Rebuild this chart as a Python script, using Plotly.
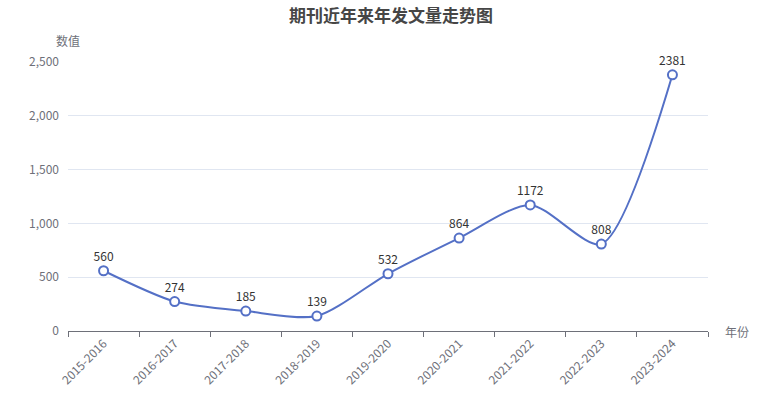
import plotly.graph_objects as go

categories = ["2015-2016", "2016-2017", "2017-2018", "2018-2019", "2019-2020",
              "2020-2021", "2021-2022", "2022-2023", "2023-2024"]
values = [560, 274, 185, 139, 532, 864, 1172, 808, 2381]
y_ticks = [0, 500, 1000, 1500, 2000, 2500]
y_tick_text = ["0", "500", "1,000", "1,500", "2,000", "2,500"]

FONT = "Noto Sans CJK SC, Microsoft YaHei, sans-serif"

fig = go.Figure()
fig.add_trace(go.Scatter(
    x=categories, y=values,
    mode="lines+markers+text",
    line=dict(color="#5470C6", width=2, shape="spline", smoothing=0.75),
    marker=dict(size=9, color="white", line=dict(color="#5470C6", width=2)),
    text=[str(v) for v in values],
    textposition="top center",
    textfont=dict(family=FONT, size=12, color="#333333"),
    cliponaxis=False,
    hoverinfo="x+y",
))

fig.update_layout(
    width=782, height=402,
    margin=dict(l=68, r=74, t=62, b=71),
    paper_bgcolor="white", plot_bgcolor="white",
    showlegend=False,
    font=dict(family=FONT, size=12, color="#6E7079"),
    title=dict(text="<b>期刊近年来年发文量走势图</b>", x=0.5, xanchor="center",
               y=0.96, yanchor="middle",
               font=dict(family=FONT, size=17, color="#464646")),
    xaxis=dict(
        type="category", range=[-0.5, 8.5],
        showline=True, linecolor="#6E7079", linewidth=1,
        ticks="outside", tickson="boundaries", ticklen=5, tickcolor="#6E7079",
        tickangle=-45, showgrid=False, zeroline=False,
        tickfont=dict(family=FONT, size=12, color="#6E7079"),
    ),
    yaxis=dict(
        range=[0, 2500], tickvals=y_ticks, ticktext=y_tick_text,
        showgrid=True, gridcolor="#E0E6F1", gridwidth=1,
        showline=False, zeroline=False, ticks="", ticklabelstandoff=8,
        tickfont=dict(family=FONT, size=12, color="#6E7079"),
    ),
    annotations=[
        dict(text="数值", xref="paper", yref="paper", x=0, y=1, xshift=0, yshift=22,
             xanchor="center", yanchor="middle", showarrow=False,
             font=dict(family=FONT, size=12, color="#6E7079")),
        dict(text="年份", xref="paper", yref="paper", x=1, y=0, xshift=15,
             xanchor="left", yanchor="middle", showarrow=False,
             font=dict(family=FONT, size=12, color="#6E7079")),
    ],
)

fig.write_html("out.html")
